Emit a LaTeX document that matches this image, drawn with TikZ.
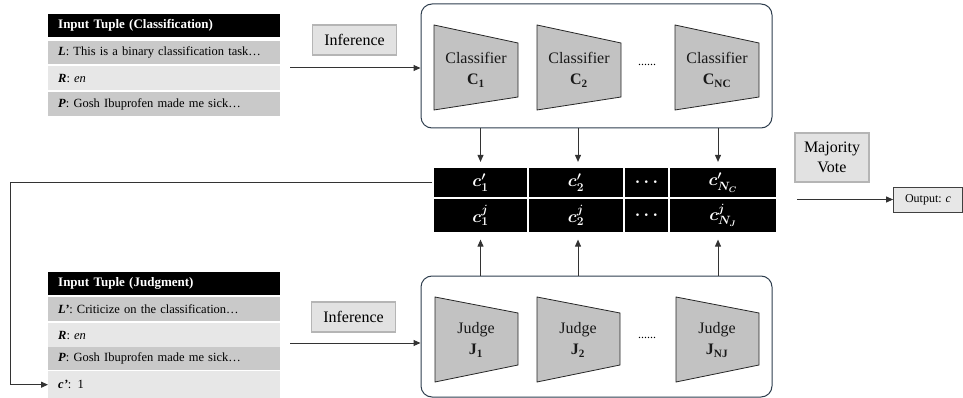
\documentclass[tikz,border=0pt]{standalone}
\usepackage{fontspec}
\setmainfont{Liberation Serif}
\usepackage{bm}
\usetikzlibrary{arrows.meta}
\definecolor{rowA}{HTML}{C9C9C9}
\definecolor{rowB}{HTML}{E7E7E7}
\definecolor{boxborder}{HTML}{2E3E4E}
\definecolor{trapfill}{HTML}{C2C2C2}
\definecolor{inffill}{HTML}{E2E2E2}
\definecolor{infdraw}{HTML}{B5B5B5}
\definecolor{linecol}{HTML}{333333}
\begin{document}
\begin{tikzpicture}[x=1pt,y=-1pt,
  tuplerow/.style={anchor=north west, text width=212pt, inner xsep=10pt, inner ysep=0pt,
     minimum height=#1, align=left, font=\fontsize{12.5}{15}\selectfont},
  hdr/.style={tuplerow=#1, fill=black, text=white, font=\bfseries\fontsize{13}{15}\selectfont},
  rowdk/.style={tuplerow=#1, fill=rowA},
  rowlt/.style={tuplerow=#1, fill=rowB},
  bigbox/.style={draw=boxborder, line width=1pt, rounded corners=11pt, minimum width=351pt, minimum height=#1},
  trap/.style={draw=black!85, fill=trapfill, line width=0.8pt},
  traptxt/.style={align=center, font=\fontsize{16}{21}\selectfont, text=black!90},
  infbox/.style={draw=infdraw, fill=inffill, line width=1.2pt, minimum width=84pt, minimum height=30pt, font=\fontsize{16}{19}\selectfont},
  cell/.style={fill=black, draw=white, line width=1.2pt, text=white, inner sep=0pt, minimum width=#1, font=\fontsize{17}{20}\selectfont},
  arr/.style={draw=linecol, line width=1pt, -{Triangle[length=7pt,width=6pt]}},
  dots/.style={font=\fontsize{12}{14}\selectfont}
]
\useasboundingbox (0,0) rectangle (963,398);

% top input tuple
\node[hdr={23pt}] (th) at (48,14) {Input Tuple (Classification)};
\node[rowdk={23pt}] (tl) at (48,41) {\textbf{\textit{L}}: This is a binary classification task…};
\node[rowlt={24pt}] (tr) at (48,66) {\textbf{\textit{R}}: \textit{en}};
\node[rowdk={24pt}] (tp) at (48,92) {\textbf{\textit{P}}: Gosh Ibuprofen made me sick…};

% bottom input tuple
\node[hdr={23pt}] (bh) at (48,272) {Input Tuple (Judgment)};
\node[rowdk={24pt}] (bl) at (48,297) {\textbf{\textit{L’}}: Criticize on the classification…};
\node[rowlt={24pt}] (br) at (48,323) {\textbf{\textit{R}}: \textit{en}};
\node[rowdk={23pt}] (bp) at (48,347) {\textbf{\textit{P}}: Gosh Ibuprofen made me sick…};
\node[rowlt={27pt}] (bc) at (48,371) {\textbf{\textit{c’}}: 1};

% inference labels
\node[infbox] (inf1) at (354.5,40) {Inference};
\node[infbox] (inf2) at (353.5,317) {Inference};

% big boxes
\node[bigbox=124pt] (topbox) at (596.5,66) {};
\node[bigbox=121pt] (botbox) at (596.5,336.5) {};

% classifiers
\foreach \xx/\nm/\lab in {434/cA/{\textbf{C}\textsubscript{\textbf{1}}},537/cB/{\textbf{C}\textsubscript{\textbf{2}}},675/cN/{\textbf{C}\textsubscript{\textbf{NC}}}}{
  \draw[trap] (\xx,25) -- ++(84,18) -- ++(0,54) -- ++(-84,13) -- cycle;
  \node[traptxt] (\nm) at (\xx+42,70) {Classifier\\\lab};
}
\node[dots] (cdots) at (647,65) {......};

% judges
\foreach \xx/\nm/\lab in {435/jA/{\textbf{J}\textsubscript{\textbf{1}}},537/jB/{\textbf{J}\textsubscript{\textbf{2}}},676/jN/{\textbf{J}\textsubscript{\textbf{NJ}}}}{
  \draw[trap] (\xx,297) -- ++(83,16) -- ++(0,52) -- ++(-83,17) -- cycle;
  \node[traptxt] (\nm) at (\xx+41,340) {Judge\\\lab};
}
\node[dots] (jdots) at (647,338) {......};

% result table
\node[cell=95pt, minimum height=30pt] (a1) at (480.5,182.5) {$\bm{c'_1}$};
\node[cell=96pt, minimum height=30pt] (a2) at (576,182.5) {$\bm{c'_2}$};
\node[cell=45pt, minimum height=30pt] (a3) at (646.5,182.5) {$\bm{\cdots}$};
\node[cell=108pt, minimum height=30pt] (a4) at (723,182.5) {$\bm{c'_{N_C}}$};
\node[cell=95pt, minimum height=35pt] (b1) at (480.5,215.5) {$\bm{c^j_1}$};
\node[cell=96pt, minimum height=35pt] (b2) at (576,215.5) {$\bm{c^j_2}$};
\node[cell=45pt, minimum height=35pt] (b3) at (646.5,215.5) {$\bm{\cdots}$};
\node[cell=108pt, minimum height=35pt] (b4) at (723,215.5) {$\bm{c^j_{N_J}}$};

% arrows into table
\draw[arr, shorten >=5pt] (a1.north |- topbox.south) -- (a1.north);
\draw[arr, shorten >=5pt] ([xshift=2pt]a2.north |- topbox.south) -- ([xshift=2pt]a2.north);
\draw[arr, shorten >=5pt] ([xshift=-5pt]a4.north |- topbox.south) -- ([xshift=-5pt]a4.north);
\draw[arr, shorten >=6pt] (b1.south |- botbox.north) -- (b1.south);
\draw[arr, shorten >=6pt] ([xshift=2pt]b2.south |- botbox.north) -- ([xshift=2pt]b2.south);
\draw[arr, shorten >=6pt] ([xshift=-5pt]b4.south |- botbox.north) -- ([xshift=-5pt]b4.south);

% input arrows
\coordinate (ta) at (290,68);
\coordinate (ba) at (290,343);
\draw[arr] (ta) -- (ta -| topbox.west);
\draw[arr] (ba) -- (ba -| botbox.west);

% feedback
\draw[arr] (a1.west) -- ++(-422,0) |- (bc.west);

% majority vote and output
\node[infbox, minimum width=74pt, minimum height=49pt, align=center, font=\fontsize{16}{20}\selectfont] (mv) at (832,157.5) {Majority\\Vote};
\node[draw=black!75, fill=rowB, line width=0.8pt, minimum width=69pt, minimum height=25pt, font=\fontsize{12}{14}\selectfont] (out) at (928,199.5) {Output: \textit{c}};
\coordinate (oa) at (797,199.5);
\draw[arr] (oa) -- (oa -| out.west);
\end{tikzpicture}
\end{document}
